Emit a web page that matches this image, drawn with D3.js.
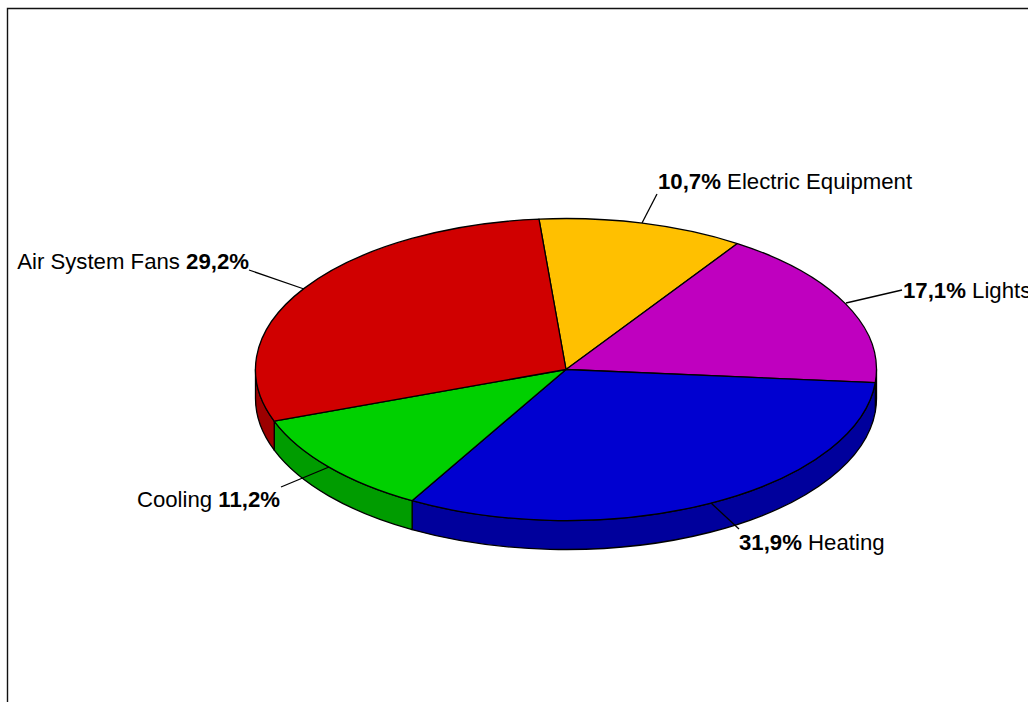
<!DOCTYPE html>
<html>
<head>
<meta charset="utf-8">
<script src="https://cdn.jsdelivr.net/npm/d3@7"></script>
<style>
html,body{margin:0;padding:0;background:#fff;overflow:hidden}
svg{display:block}
text{font-family:"Liberation Sans",Arial,sans-serif;font-size:22.2px;fill:#000}
</style>
</head>
<body>
<svg id="c" width="1028" height="702"></svg>
<script>
// Data, clockwise from the top-left slice boundary
const categories = ["Electric Equipment", "Lights", "Heating", "Cooling", "Air System Fans"];
const shares     = [10.7, 17.1, 31.9, 11.2, 29.2];
const shareText  = ["10,7%", "17,1%", "31,9%", "11,2%", "29,2%"];
const topColors  = ["#FFC000", "#BF00BF", "#0000D0", "#00D000", "#D00000"];
const sideColors = ["#BF9000", "#8F008F", "#00009C", "#009C00", "#9C0000"];
const valueFirst = [true, true, true, false, false];
// Chart layout
const W = 1028, H = 702;
const center = [566, 369.5], radii = [310.5, 151], depth = 29;
const startDeg = -5;
const labelAnchors = [[658, 189], [903, 298], [739, 550], [280, 507], [249, 269]];
const labelAlign   = ["start", "start", "start", "end", "end"];
const leaders = [
  [[642, 223], [657, 194]],
  [[846, 303], [902, 290]],
  [[711, 503], [739, 529]],
  [[329, 467], [281, 487]],
  [[304, 289], [249, 270]]
];

const svg = d3.select("#c");
// Frame: only top and left edges are visible in the window
svg.append("path").attr("d", `M7.5 ${H}V8.5H${W}`).attr("fill", "none")
   .attr("stroke", "#111").attr("stroke-width", 1.4);

const start = startDeg * Math.PI / 180;
const arcsData = d3.pie().sort(null).value((d, i) => shares[i])
  .startAngle(start).endAngle(start + 2 * Math.PI)(categories);

const sx = d3.scaleLinear().domain([-1, 1]).range([center[0] - radii[0], center[0] + radii[0]]);
const sy = d3.scaleLinear().domain([-1, 1]).range([center[1] - radii[1], center[1] + radii[1]]);
const px = a => sx(Math.sin(a));
const py = a => sy(-Math.cos(a));

// Side wall: front half of the ellipse only, angles π/2 .. 3π/2
const lo = Math.PI / 2, hi = 3 * Math.PI / 2;
const norm = a => { a = a % (2 * Math.PI); return a < 0 ? a + 2 * Math.PI : a; };
const sideG = svg.append("g");
arcsData.forEach((d, i) => {
  const off = norm(d.startAngle) - d.startAngle;
  const a = Math.max(d.startAngle + off, lo), b = Math.min(d.endAngle + off, hi);
  if (b <= a) return;
  const rx = radii[0], ry = radii[1];
  const path = `M${px(a)} ${py(a)}A${rx} ${ry} 0 0 1 ${px(b)} ${py(b)}` +
    `L${px(b)} ${py(b) + depth}A${rx} ${ry} 0 0 0 ${px(a)} ${py(a) + depth}Z`;
  sideG.append("path").attr("d", path).attr("fill", sideColors[i])
    .attr("stroke", "#000").attr("stroke-width", 1.3).attr("stroke-linejoin", "round");
});

// Top surface
const arc = d3.arc().innerRadius(0).outerRadius(1);
svg.append("g")
  .attr("transform", `translate(${center[0]},${center[1]}) scale(${radii[0]},${radii[1]})`)
  .selectAll("path").data(arcsData).join("path")
  .attr("d", arc)
  .attr("fill", (d, i) => topColors[i])
  .attr("stroke", "#000")
  .attr("stroke-width", 1.3)
  .attr("stroke-linejoin", "round")
  .attr("vector-effect", "non-scaling-stroke");

// Leader lines
const line = d3.line();
svg.append("g").selectAll("path").data(leaders).join("path")
  .attr("d", line).attr("fill", "none").attr("stroke", "#000").attr("stroke-width", 1.3);

// Labels
const labels = svg.append("g").selectAll("text").data(categories).join("text")
  .attr("x", (d, i) => labelAnchors[i][0])
  .attr("y", (d, i) => labelAnchors[i][1])
  .attr("text-anchor", (d, i) => labelAlign[i]);
labels.each(function (d, i) {
  const t = d3.select(this);
  if (valueFirst[i]) {
    t.append("tspan").attr("font-weight", "bold").text(shareText[i]);
    t.append("tspan").text(" " + d);
  } else {
    t.append("tspan").text(d + " ");
    t.append("tspan").attr("font-weight", "bold").text(shareText[i]);
  }
});
</script>
</body>
</html>
